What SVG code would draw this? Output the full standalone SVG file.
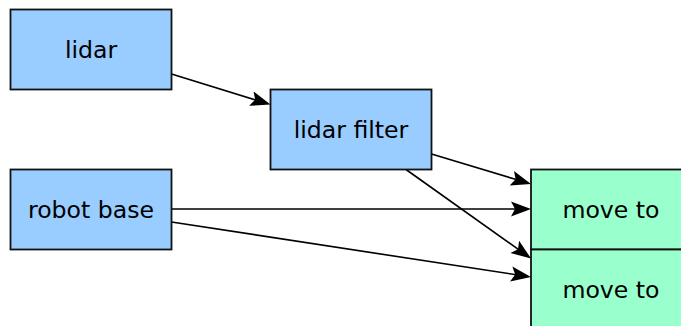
<svg xmlns="http://www.w3.org/2000/svg" width="681" height="326" viewBox="0 0 681 326">
  <style>
    .box { stroke: #111; stroke-width: 1.8; }
    .src { fill: #99ccff; }
    .dst { fill: #99ffcc; }
    .label { font-family: "DejaVu Sans", "Liberation Sans", sans-serif; font-size: 23.6px; fill: #000; text-anchor: middle; }
    .edge { fill: none; stroke: #000; stroke-width: 1.6; marker-end: url(#arrow); }
  </style>
  <defs>
    <marker id="arrow" markerUnits="userSpaceOnUse" markerWidth="24" markerHeight="18" viewBox="0 -9 24 18" refX="10" refY="0" orient="auto">
      <path d="M20,0 L0,-7.5 L4,0 L0,7.5 Z" fill="#000"/>
    </marker>
  </defs>
  <rect width="681" height="326" fill="#fff"/>

  <g id="connectors">
    <path class="edge" d="M171.5,74 L260.9,101.6"/>
    <path class="edge" d="M431.5,154 L521.4,181.1"/>
    <path class="edge" d="M406,169.5 L522.9,252.7"/>
    <path class="edge" d="M171.5,209 L521,209"/>
    <path class="edge" d="M171.5,222 L521.1,275.5"/>
  </g>

  <g id="lidar">
    <rect class="box src" x="10.5" y="9.5" width="161" height="80"/>
    <text class="label" x="91" y="57.5">lidar</text>
  </g>
  <g id="lidar-filter">
    <rect class="box src" x="270.5" y="89.5" width="161" height="80"/>
    <text class="label" x="351" y="137.5">lidar filter</text>
  </g>
  <g id="robot-base">
    <rect class="box src" x="10.5" y="169.5" width="161" height="80"/>
    <text class="label" x="91" y="217.5">robot base</text>
  </g>
  <g id="move-to-1">
    <rect class="box dst" x="531" y="169.5" width="161" height="80"/>
    <text class="label" x="611" y="217.8">move to</text>
  </g>
  <g id="move-to-2">
    <rect class="box dst" x="531" y="249.5" width="161" height="80"/>
    <text class="label" x="611" y="297.8">move to</text>
  </g>
</svg>
